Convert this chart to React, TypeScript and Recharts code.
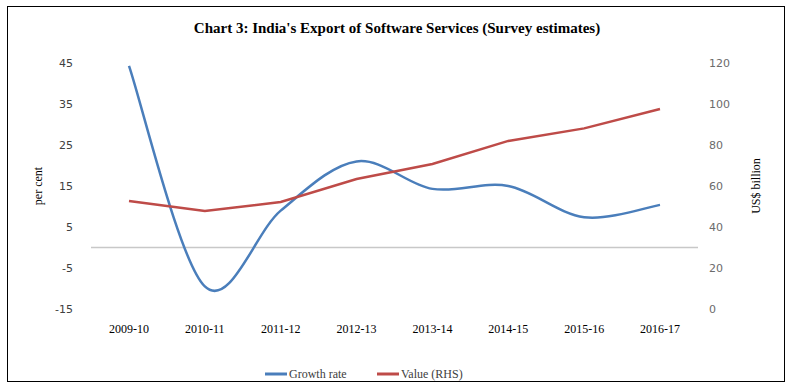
import React from "react";
import {
  LineChart,
  Line,
  XAxis,
  YAxis,
  ReferenceLine,
  Legend,
} from "recharts";

const years = [
  "2009-10",
  "2010-11",
  "2011-12",
  "2012-13",
  "2013-14",
  "2014-15",
  "2015-16",
  "2016-17",
];
const growthRate = [44.3, -9.5, 9, 21, 14.3, 15, 7.4, 10.4];
const valueRhs = [52.7, 47.8, 52.2, 63.4, 70.7, 82, 88.1, 97.6];
const leftTicks = [-15, -5, 5, 15, 25, 35, 45];
const rightTicks = [0, 20, 40, 60, 80, 100, 120];

const data = years.map((year, i) => ({
  year,
  growth: growthRate[i],
  value: valueRhs[i],
}));

const BLUE = "#4a7ebb";
const RED = "#be4b48";
const SERIF = "'Liberation Serif', 'DejaVu Serif', serif";
const SANS = "'DejaVu Sans', Verdana, sans-serif";

// Excel-like smoothed line (Catmull-Rom through the points)
const smoothCurve = (context: any) => {
  let pts: number[][] = [];
  return {
    areaStart() {},
    areaEnd() {},
    lineStart() {
      pts = [];
    },
    lineEnd() {
      if (!pts.length) return;
      context.moveTo(pts[0][0], pts[0][1]);
      for (let i = 0; i < pts.length - 1; i++) {
        const p0 = pts[Math.max(i - 1, 0)];
        const p1 = pts[i];
        const p2 = pts[i + 1];
        const p3 = pts[Math.min(i + 2, pts.length - 1)];
        context.bezierCurveTo(
          p1[0] + (p2[0] - p0[0]) / 6,
          p1[1] + (p2[1] - p0[1]) / 6,
          p2[0] - (p3[0] - p1[0]) / 6,
          p2[1] - (p3[1] - p1[1]) / 6,
          p2[0],
          p2[1]
        );
      }
    },
    point(x: number, y: number) {
      pts.push([+x, +y]);
    },
  };
};

const renderLegend = () => (
  <svg width={794} height={20} style={{ overflow: "visible" }}>
    <line x1={265} x2={287} y1={10} y2={10} stroke={BLUE} strokeWidth={3} />
    <text x={289} y={14} fontSize={12} fontFamily={SERIF} fill="#404040">
      Growth rate
    </text>
    <line x1={377} x2={399} y1={10} y2={10} stroke={RED} strokeWidth={3} />
    <text x={401} y={14} fontSize={12} fontFamily={SERIF} fill="#404040">
      Value (RHS)
    </text>
  </svg>
);

export default function App() {
  return (
    <div
      style={{
        position: "absolute",
        left: 0,
        top: 0,
        width: 794,
        height: 389,
        background: "#fff",
      }}
    >
      <div
        style={{
          position: "absolute",
          left: 7,
          top: 6,
          width: 778,
          height: 376,
          border: "1.5px solid #000",
          boxSizing: "border-box",
        }}
      />
      <LineChart
        width={794}
        height={389}
        data={data}
        margin={{ top: 63, right: 46, left: 31, bottom: 30 }}
        style={{ position: "absolute", left: 0, top: 0 }}
      >
        <text
          x={397}
          y={33}
          textAnchor="middle"
          fontFamily={SERIF}
          fontWeight="bold"
          fontSize={15}
          fill="#000"
        >
          Chart 3: India's Export of Software Services (Survey estimates)
        </text>
        <XAxis
          dataKey="year"
          axisLine={false}
          tickLine={false}
          tickSize={0}
          tickMargin={15}
          height={30}
          interval={0}
          padding={{ left: 38, right: 38 }}
          tick={{ fontSize: 12, fontFamily: SERIF, fill: "#000" }}
        />
        <YAxis
          yAxisId="left"
          domain={[-15, 45]}
          ticks={leftTicks}
          axisLine={false}
          tickLine={false}
          tickSize={0}
          tickMargin={18}
          width={60}
          tick={{ fontSize: 11, fontFamily: SANS, fill: "#404040" }}
          label={{
            content: () => (
              <text
                x={38}
                y={186}
                transform="rotate(-90, 38, 186)"
                textAnchor="middle"
                dominantBaseline="central"
                fontSize={12}
                fontFamily={SERIF}
                fill="#000"
              >
                per cent
              </text>
            ),
          }}
        />
        <YAxis
          yAxisId="right"
          orientation="right"
          domain={[0, 120]}
          ticks={rightTicks}
          axisLine={false}
          tickLine={false}
          tickSize={0}
          tickMargin={11}
          width={50}
          tick={{ fontSize: 11, fontFamily: SANS, fill: "#6b6b6b" }}
          label={{
            content: () => (
              <text
                x={756}
                y={186}
                transform="rotate(-90, 756, 186)"
                textAnchor="middle"
                dominantBaseline="central"
                fontSize={12}
                fontFamily={SERIF}
                fill="#000"
              >
                US$ billion
              </text>
            ),
          }}
        />
        <ReferenceLine
          yAxisId="left"
          y={0}
          stroke="#c8c8c8"
          strokeWidth={1.5}
        />
        <Line
          yAxisId="left"
          dataKey="growth"
          name="Growth rate"
          type={smoothCurve as any}
          stroke={BLUE}
          strokeWidth={2.5}
          dot={false}
          isAnimationActive={false}
        />
        <Line
          yAxisId="right"
          dataKey="value"
          name="Value (RHS)"
          type="linear"
          stroke={RED}
          strokeWidth={2.5}
          dot={false}
          isAnimationActive={false}
        />
        <Legend
          verticalAlign="bottom"
          content={renderLegend}
          wrapperStyle={{ left: 0, top: 364, width: 794, height: 20 }}
        />
      </LineChart>
    </div>
  );
}
